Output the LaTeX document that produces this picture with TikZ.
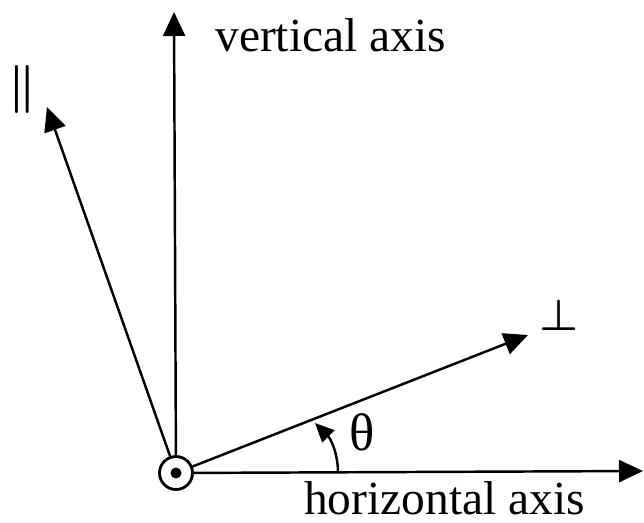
\documentclass[tikz,border=0pt]{standalone}
\usepackage{fontspec}
\setmainfont{Liberation Serif}
\usetikzlibrary{arrows.meta}

\tikzset{
  axis/.style={line width=1.4pt, -{Triangle[length=0.48cm,width=0.44cm]}},
  lbl/.style={font=\fontsize{27}{32}\selectfont, inner sep=0pt},
  sym/.style={font=\fontsize{27}{32}\selectfont\boldmath, inner sep=0pt},
}

\begin{document}
\begin{tikzpicture}
    \useasboundingbox (0,0) rectangle (12.88,10.44);

    % Origin (out of the page)
    \node[draw, circle, line width=1.6pt, minimum size=0.66cm, inner sep=0pt] (O) at (3.52,0.98) {};
    \node[fill, circle, minimum size=0.22cm, inner sep=0pt] (dot) at (O.center) {};

    % Arrow ends
    \coordinate (vtip) at (3.48,10.20);
    \coordinate (htip) at (12.86,1.02);
    \coordinate (perptip) at (10.56,3.74);
    \coordinate (partip) at (0.94,8.30);

    % Labels
    \node[lbl, anchor=base west] (vlabel) at (4.30,9.40) {vertical axis};
    \node[lbl, anchor=base] (hlabel) at (8.89,0.16) {horizontal axis};
    \node[sym] (perp) at (11.18,4.14) {$\perp$};
    \node[sym] (par) at (0.45,8.66) {\scalebox{1.1}{$\parallel$}};
    \node[lbl, font=\fontsize{30}{34}\selectfont] (theta) at (7.24,1.80) {θ};

    % Axes
    \draw[axis] (O) -- (vtip);
    \draw[axis] (O) -- (htip);
    \draw[axis] (O) -- (perptip);
    \draw[axis] (O) -- (partip);

    % Angle
    \coordinate (a1) at (6.76,1.02);
    \coordinate (a2) at (6.30,1.98);
    \draw[line width=1.4pt, -{Triangle[length=0.38cm,width=0.34cm]}] (a1) to[out=92, in=-45] (a2);

\end{tikzpicture}
\end{document}
